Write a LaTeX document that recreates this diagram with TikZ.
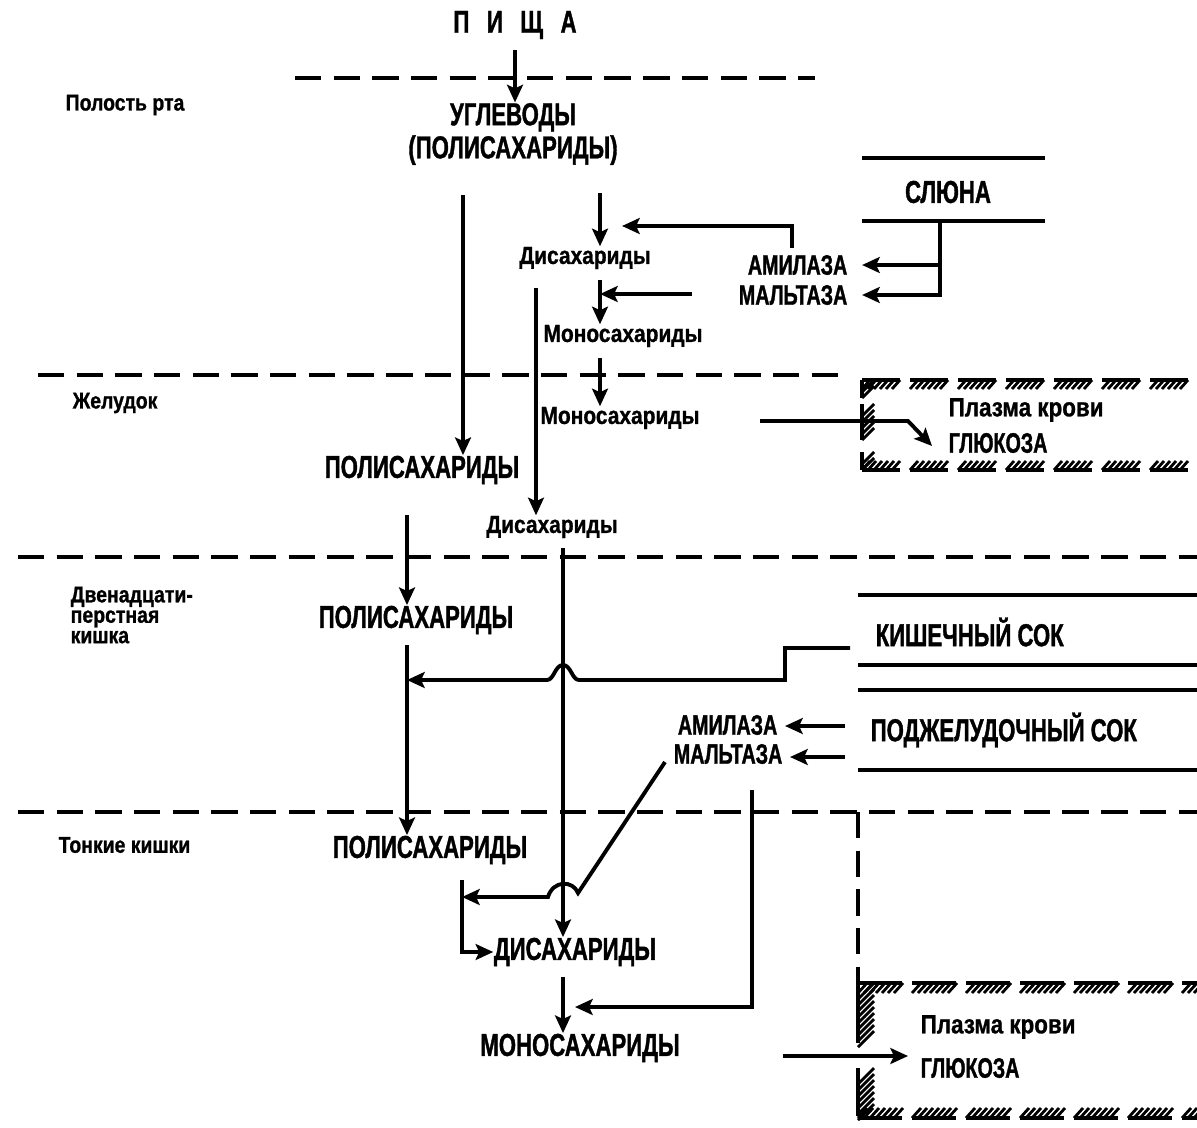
\documentclass[tikz,border=0pt]{standalone}
\usepackage{fontspec}
\setmainfont{Liberation Sans}
\newfontfamily\sovfont[FakeStretch=0.7,FakeBold=1.2]{Liberation Sans}
\newfontfamily\sovsmall[FakeStretch=0.85,FakeBold=1]{Liberation Sans}
\usetikzlibrary{arrows.meta}

\tikzset{
  caps/.style={font=\sovfont\bfseries\fontsize{9}{9.4}\selectfont, inner sep=0pt, align=center},
  enz/.style={font=\sovfont\bfseries\fontsize{8}{8.5}\selectfont, inner sep=0pt},
  lab/.style={font=\sovsmall\bfseries\fontsize{7}{7.5}\selectfont, inner sep=0pt},
  zone/.style={font=\sovsmall\bfseries\fontsize{6.5}{5.8}\selectfont, inner sep=0pt, anchor=west, align=left},
  flow/.style={line width=1.1pt, -{Stealth[length=5pt,width=4.5pt,inset=1pt]}},
  wire/.style={line width=1.1pt},
  border/.style={line width=0.9pt, dash pattern=on 7.5pt off 3.5pt},
  juice/.style={line width=0.9pt},
  hatchbar/.style={line width=1.1pt},
  hatchln/.style={line width=0.8pt},
}

\begin{document}
\begin{tikzpicture}[x=0.01cm,y=-0.01cm]
  \useasboundingbox (0,0) rectangle (1197,1127);

  % section borders
  \draw[border] (295,78) -- (815,78);
  \draw[border] (38,375) -- (850,375);
  \draw[border] (18,557) -- (1197,557);
  \draw[border] (18,812) -- (1197,812);
  \draw[border] (858,812) -- (858,983);

  % zones
  \node[zone] (zmouth) at (65,105) {Полость рта};
  \node[zone] (zstom) at (72,403) {Желудок};
  \node[zone] (zduod) at (70,615) {Двенадцати-\\перстная\\кишка};
  \node[zone] (zsmall) at (58,845) {Тонкие кишки};

  % substances
  \node[caps] (food) at (515,25) {П\hspace{5pt}И\hspace{5pt}Щ\hspace{5pt}А};
  \node[caps] (carb) at (513,134) {УГЛЕВОДЫ\\(ПОЛИСАХАРИДЫ)};
  \node[lab] (di1) at (585,258) {Дисахариды};
  \node[lab] (mono1) at (623,336) {Моносахариды};
  \node[lab] (mono2) at (620,418) {Моносахариды};
  \node[caps] (poly2) at (422,470) {ПОЛИСАХАРИДЫ};
  \node[lab] (di2) at (552,527) {Дисахариды};
  \node[caps] (poly3) at (416,620) {ПОЛИСАХАРИДЫ};
  \node[caps] (poly4) at (430,850) {ПОЛИСАХАРИДЫ};
  \node[caps] (di3) at (575,952) {ДИСАХАРИДЫ};
  \node[caps] (mono3) at (580,1048) {МОНОСАХАРИДЫ};

  % juices and enzymes
  \draw[juice] (862,158) -- (1045,158);
  \draw[juice] (862,221) -- (1045,221);
  \node[caps] (saliva) at (948,192) {СЛЮНА};
  \node[enz, anchor=east] (amy1) at (848,265) {АМИЛАЗА};
  \node[enz, anchor=east] (mal1) at (848,295) {МАЛЬТАЗА};
  \draw[juice] (858,595) -- (1197,595);
  \draw[juice] (858,665) -- (1197,665);
  \node[caps, anchor=west] (intj) at (875,632) {КИШЕЧНЫЙ СОК};
  \draw[juice] (858,690) -- (1197,690);
  \draw[juice] (858,770) -- (1197,770);
  \node[caps, anchor=west] (panc) at (870,730) {ПОДЖЕЛУДОЧНЫЙ СОК};
  \node[enz, anchor=east] (amy2) at (778,725) {АМИЛАЗА};
  \node[enz, anchor=east] (mal2) at (783,754) {МАЛЬТАЗА};

  % blood plasma
  \node[lab, font=\sovsmall\bfseries\fontsize{7.5}{8}\selectfont, anchor=west] (plasma1) at (948,410) {Плазма крови};
  \node[enz, anchor=west] (gluc1) at (948,443) {ГЛЮКОЗА};
  \node[lab, font=\sovsmall\bfseries\fontsize{7.5}{8}\selectfont, anchor=west] (plasma2) at (920,1027) {Плазма крови};
  \node[enz, anchor=west] (gluc2) at (920,1068) {ГЛЮКОЗА};
  \foreach \a in {862,910,...,1190} {
    \draw[hatchbar] (\a,380) -- ++(38,0);
    \foreach \i in {0,...,5} \draw[hatchln] (\a+\i*6,389) -- ++(8,-9);
    \draw[hatchbar] (\a,470) -- ++(38,0);
    \foreach \i in {0,...,5} \draw[hatchln] (\a+\i*6,470) -- ++(8,-9);
  }
  \foreach \b/\n in {380/1,404/4,452/1} {
    \draw[hatchbar] (862,\b) -- ++(0,\n*6+12);
    \foreach \i in {0,...,\n} \draw[hatchln] (862,\b+\i*6+12) -- ++(12,-12);
  }
  \foreach \a in {858,912,...,1190} {
    \draw[hatchbar] (\a,983) -- ++(44,0);
    \foreach \i in {0,...,6} \draw[hatchln] (\a+\i*6,993) -- ++(9,-10);
    \draw[hatchbar] (\a,1118) -- ++(44,0);
    \foreach \i in {0,...,6} \draw[hatchln] (\a+\i*6,1118) -- ++(9,-10);
  }
  \foreach \b/\n in {983/8,1068/6} {
    \draw[hatchbar] (858,\b) -- ++(0,\n*6+12);
    \foreach \i in {0,...,\n} \draw[hatchln] (858,\b+\i*6+16) -- ++(16,-16);
  }

  % free ends
  \coordinate (p0) at (463,195);
  \coordinate (d0) at (600,193);
  \coordinate (d2) at (536,288);
  \coordinate (e1) at (792,248);
  \coordinate (e1t) at (622,226);
  \coordinate (e2) at (692,294);
  \coordinate (sj) at (940,221);
  \coordinate (g1) at (760,421);
  \coordinate (p1) at (407,515);
  \coordinate (d3) at (563,548);
  \coordinate (k0) at (850,648);
  \coordinate (k1) at (785,680);
  \coordinate (a2s) at (845,726);
  \coordinate (m2s) at (845,757);
  \coordinate (m0) at (665,762);
  \coordinate (m1) at (548,897);
  \coordinate (b0) at (462,880);
  \coordinate (r0) at (752,790);
  \coordinate (r1) at (575,1007);
  \coordinate (g2) at (783,1056);

  % mouth
  \draw[flow, shorten <=3pt] (food.south) -- (food.south |- carb.north);
  \draw[flow] (p0) -- (p0 |- poly2.north);
  \draw[flow] (d0) -- (d0 |- di1.north);
  \draw[flow, shorten <=3pt] (di1.south -| d0) -- (d0 |- mono1.north);
  \draw[flow, shorten <=3pt] (mono1.south -| d0) -- (d0 |- mono2.north);
  \draw[flow] (e1) |- (e1t);
  \draw[flow] (e2) -- (e2 -| d0);
  \draw[flow, shorten >=4pt] (sj) |- (amy1.east);
  \draw[flow, shorten >=4pt] (sj) |- (mal1.east);

  % stomach
  \draw[flow] (d2) -- (d2 |- di2.north);
  \draw[flow] (g1) -- ++(148,0) -- ++(24,25);

  % duodenum
  \draw[flow] (p1) -- (p1 |- poly3.north);
  \draw[flow] (d3) -- (d3 |- di3.north);
  \draw[flow, shorten <=3pt] (poly3.south -| p1) -- (p1 |- poly4.north);
  \draw[flow] (k0) -| (k1) -- (579,680) .. controls (572,680) and (571,665) .. (563,665)
    .. controls (555,665) and (554,680) .. (547,680) -- (p1 |- k1);
  \draw[flow, shorten >=2pt] (a2s) -- (a2s -| amy2.east);
  \draw[flow, shorten >=2pt] (m2s) -- (m2s -| mal2.east);

  % small intestine
  \draw[flow] (m0) -- (578,893) .. controls (573,880) and (553,880) .. (m1) -- (b0 |- m1);
  \draw[flow] (b0) |- (di3.west);
  \draw[flow, shorten <=3pt] (di3.south -| d3) -- (d3 |- mono3.north);
  \draw[flow] (r0) |- (r1);
  \draw[flow] (g2) -- ++(125,0);
\end{tikzpicture}
\end{document}
